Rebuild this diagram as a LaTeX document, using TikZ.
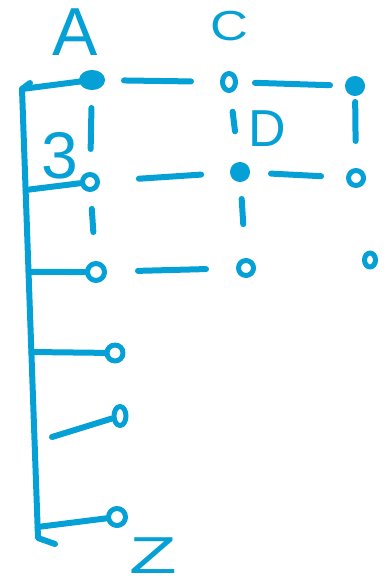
\documentclass[tikz,border=0pt]{standalone}
\usepackage{fontspec}
\setsansfont{Liberation Sans}
\usetikzlibrary{calc,shapes.geometric}
\definecolor{pen}{HTML}{05A0D6}

\begin{document}
\begin{tikzpicture}[x=1pt, y=-1pt, line cap=round, line join=round,
    dot/.style={circle, draw=pen, line width=5pt, inner sep=0pt, minimum size=15pt},
    link/.style={draw=pen, line width=6pt},
    lbl/.style={text=pen, inner sep=0pt, font=\sffamily}]
    \useasboundingbox (0,0) rectangle (385,585);

    % 格子の点
    \node[dot, ellipse, fill=pen, minimum width=21pt, minimum height=15pt] (a1) at (92,80) {};
    \node[dot, ellipse, minimum width=13pt, minimum height=17pt] (c1) at (229,82) {};
    \node[dot, fill=pen] (e1) at (355,86) {};
    \node[dot] (a2) at (90,182) {};
    \node[dot, fill=pen] (c2) at (240,172) {};
    \node[dot] (e2) at (356,178) {};
    \node[dot, minimum size=17pt] (a3) at (96,272) {};
    \node[dot] (c3) at (246,268) {};
    \node[dot, ellipse, minimum width=11pt, minimum height=14pt] (e3) at (370,260) {};
    \node[dot, minimum size=16pt] (a4) at (115,353) {};
    \node[dot, ellipse, minimum width=12pt, minimum height=19pt] (a5) at (120,416) {};
    \node[dot, minimum size=17pt] (a6) at (117,517) {};

    % 点線のつながり（一本ずつ）
    \draw[link, shorten <=19pt, shorten >=29pt] (a1) -- (c1);
    \draw[link, shorten <=17pt, shorten >=15pt] (c1) -- (e1);
    \draw[link, shorten <=18pt, shorten >=23pt] (a1) -- (a2);
    \draw[link, shorten <=19pt, shorten >=31pt] (c1) -- (c2);
    \draw[link, shorten <=6pt, shorten >=27pt] (e1) -- (e2);
    \draw[link, shorten <=39pt, shorten >=29pt] (a2) -- (c2);
    \draw[link, shorten <=21pt, shorten >=25pt] (c2) -- (e2);
    \draw[link, shorten <=17pt, shorten >=29pt] (a2) -- (a3);
    \draw[link, shorten <=17pt, shorten >=34pt] (c2) -- (c3);
    \draw[link, shorten <=31pt, shorten >=30pt] (a3) -- (c3);

    % 左の括弧
    \coordinate (top) at (22,89);
    \coordinate (foot) at (38,538);
    \draw[link] (30,83) -- (top) -- (foot) -- (55,544);
    \draw[link] (top) -- (a1);
    \foreach \n/\y in {a2/190, a3/272, a4/352, a6/527}{
        \draw[link] ($(top)!{(\y-89)/449}!(foot)$) -- (\n);
    }
    \coordinate (tick5) at (52,437);
    \draw[link] (tick5) -- (a5);

    % 文字
    \node[lbl, font=\sffamily\fontsize{68}{68}\selectfont] (la) at (75,32) {A};
    \node[lbl, font=\sffamily\fontsize{42}{42}\selectfont, xscale=1.25] (lc) at (229,26) {C};
    \node[lbl, font=\sffamily\fontsize{52}{52}\selectfont] (ld) at (267,129) {D};
    \node[lbl, font=\sffamily\fontsize{66}{66}\selectfont] (l3) at (60,156) {3};
    \node[lbl, font=\sffamily\fontsize{52}{52}\selectfont, xscale=1.5] (lz) at (153,556) {Z};
\end{tikzpicture}
\end{document}
